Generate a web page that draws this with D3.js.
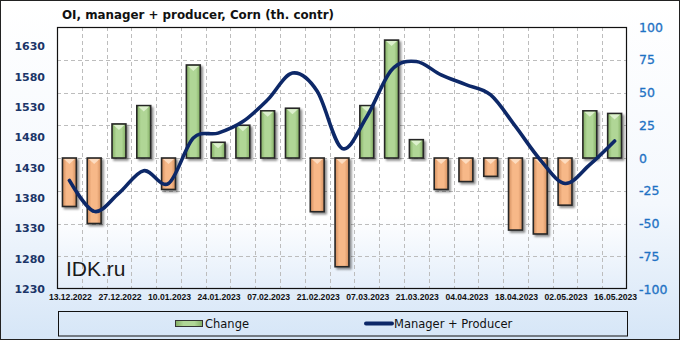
<!DOCTYPE html>
<html><head><meta charset="utf-8">
<script src="https://cdn.jsdelivr.net/npm/d3@7/dist/d3.min.js"></script>
<style>html,body{margin:0;padding:0;background:#fff;}svg{display:block;}</style>
</head><body>
<script>
const dates = ["13.12.2022","20.12.2022","27.12.2022","03.01.2023","10.01.2023","17.01.2023","24.01.2023","31.01.2023","07.02.2023","14.02.2023","21.02.2023","28.02.2023","07.03.2023","14.03.2023","21.03.2023","28.03.2023","04.04.2023","11.04.2023","18.04.2023","25.04.2023","02.05.2023","09.05.2023","16.05.2023"];
const change = [-37,-50,26,40,-24,71,12,25,36,38,-41,-83,40,90,14,-24,-18,-14,-55,-58,-36,36,34];
const managerProducer = [1409,1358,1388,1425,1404,1479,1487,1506,1542,1586,1556,1462,1514,1591,1605,1583,1567,1550,1498,1443,1404,1435,1474];
const leftTicks = [1230,1280,1330,1380,1430,1480,1530,1580,1630];
const rightTicks = [-100,-75,-50,-25,0,25,50,75,100];
const xTickLabels = dates.filter((d,i)=>i%2===0);
const title = "OI, manager + producer, Corn (th. contr)";
const seriesNames = ["Change","Manager + Producer"];

const W=681,H=341;
const plot={l:57,r:627,t:27,b:289};
const svg=d3.select("body").append("svg").attr("width",W).attr("height",H);
const defs=svg.append("defs");

const bgG=defs.append("linearGradient").attr("id","bg").attr("x1",0).attr("y1",0).attr("x2",0).attr("y2",1);
bgG.append("stop").attr("offset","0%").attr("stop-color","#ffffff");
bgG.append("stop").attr("offset","60%").attr("stop-color","#f4f8fd");
bgG.append("stop").attr("offset","100%").attr("stop-color","#d6e6f7");
const pG=defs.append("linearGradient").attr("id","pbg").attr("x1",0).attr("y1",0).attr("x2",0).attr("y2",1);
pG.append("stop").attr("offset","0%").attr("stop-color","#ffffff");
pG.append("stop").attr("offset","72%").attr("stop-color","#ffffff");
pG.append("stop").attr("offset","100%").attr("stop-color","#e4eefa");

function hGrad(id,edge,mid){
  const g=defs.append("linearGradient").attr("id",id).attr("x1",0).attr("y1",0).attr("x2",1).attr("y2",0);
  g.append("stop").attr("offset","0%").attr("stop-color",edge);
  g.append("stop").attr("offset","30%").attr("stop-color",mid);
  g.append("stop").attr("offset","70%").attr("stop-color",mid);
  g.append("stop").attr("offset","100%").attr("stop-color",edge);
}
hGrad("gPos","#82ad62","#b0d696");
hGrad("gNeg","#d18d5d","#f7b888");
const f=defs.append("filter").attr("id","sh").attr("x","-30%").attr("y","-10%").attr("width","170%").attr("height","130%");
f.append("feGaussianBlur").attr("in","SourceAlpha").attr("stdDeviation",1.2).attr("result","b");
f.append("feOffset").attr("in","b").attr("dx",2).attr("dy",2).attr("result","o");
f.append("feComponentTransfer").attr("in","o").attr("result","o2").append("feFuncA").attr("type","linear").attr("slope",0.45);
const fm=f.append("feMerge");fm.append("feMergeNode").attr("in","o2");fm.append("feMergeNode").attr("in","SourceGraphic");

svg.append("rect").attr("x",0.5).attr("y",0.5).attr("width",W-2).attr("height",H-2).attr("fill","url(#bg)").attr("stroke","#222").attr("stroke-width",1);
svg.append("rect").attr("x",plot.l).attr("y",plot.t).attr("width",plot.r-plot.l).attr("height",plot.b-plot.t).attr("fill","url(#pbg)");

const x=d3.scaleBand().domain(dates).range([plot.l,plot.r]).padding(0);
const yR=d3.scaleLinear().domain([-100,100]).range([plot.b,plot.t]);
const yL=d3.scaleLinear().domain([1230,1662]).range([plot.b,plot.t]);

const grid=svg.append("g").attr("stroke","#bdbdbd").attr("stroke-dasharray","4,3").attr("stroke-width",1);
rightTicks.slice(1,-1).forEach(v=>grid.append("line").attr("x1",plot.l).attr("x2",plot.r).attr("y1",Math.round(yR(v))+0.5).attr("y2",Math.round(yR(v))+0.5));
dates.slice(1).forEach(d=>grid.append("line").attr("x1",Math.round(x(d))+0.5).attr("x2",Math.round(x(d))+0.5).attr("y1",plot.t).attr("y2",plot.b));

svg.append("text").attr("x",62).attr("y",19).attr("font-family","DejaVu Sans").attr("font-weight","bold").attr("font-size",11.5)
  .attr("textLength",272).attr("lengthAdjust","spacingAndGlyphs").attr("fill","#111").text(title);

svg.append("text").attr("x",66).attr("y",276).attr("font-family","Liberation Sans, Arial").attr("font-size",21).attr("fill","#1a1a1a").text("IDK.ru");

const bw=x.bandwidth()*0.56;
const bars=svg.append("g");
change.forEach((v,i)=>{
  const cx=x(dates[i])+x.bandwidth()/2;
  const y0=yR(0),y1=yR(v);
  const top=Math.min(y0,y1),h=Math.abs(y1-y0);
  const g=bars.append("g");
  g.append("rect").attr("x",cx-bw/2).attr("y",top).attr("width",bw).attr("height",h)
    .attr("fill",v>=0?"url(#gPos)":"url(#gNeg)").attr("stroke","#262626").attr("stroke-width",1.6).attr("filter","url(#sh)");
  const tw=bw-3, th=Math.min(5,h/2);
  g.append("path").attr("d",`M${cx-tw/2},${top+1}L${cx+tw/2},${top+1}L${cx},${top+1+th}Z`).attr("fill",v>=0?"#e2f3d4":"#fde0c6").attr("opacity",0.9);
});

const line=d3.line().x((d,i)=>x(dates[i])+x.bandwidth()/2).y(d=>yL(d)).curve(d3.curveCardinal.tension(0));
svg.append("path").datum(managerProducer).attr("d",line).attr("fill","none").attr("stroke","#0d2868").attr("stroke-width",3.6).attr("stroke-linecap","round");

svg.append("rect").attr("x",plot.l+0.5).attr("y",plot.t+0.5).attr("width",plot.r-plot.l-1).attr("height",plot.b-plot.t-1).attr("fill","none").attr("stroke","#111").attr("stroke-width",1.2);

svg.append("g").selectAll("text").data(leftTicks).join("text").attr("x",45).attr("y",d=>yL(d)).attr("dy","0.36em").attr("text-anchor","end")
  .attr("font-family","DejaVu Sans").attr("font-weight","bold").attr("font-size",11).attr("fill","#1b3568").text(d=>d);
svg.append("g").selectAll("text").data(rightTicks).join("text").attr("x",639).attr("y",d=>yR(d)).attr("dy","0.36em").attr("text-anchor","start")
  .attr("font-family","DejaVu Sans").attr("font-size",12.5).attr("stroke","#1f72c4").attr("stroke-width",0.3).attr("fill","#1f72c4").text(d=>d);
svg.append("g").selectAll("text").data(xTickLabels).join("text").attr("x",d=>x(d)+x.bandwidth()/2+1).attr("y",300).attr("text-anchor","middle")
  .attr("font-family","Liberation Sans, Arial").attr("font-weight","bold").attr("font-size",8.6).attr("fill","#111").text(d=>d);

svg.append("rect").attr("x",58.5).attr("y",311.5).attr("width",569).attr("height",24.5).attr("fill","none").attr("stroke","#111").attr("stroke-width",1);
svg.append("rect").attr("x",175.5).attr("y",320.5).attr("width",27).attr("height",6).attr("fill","url(#gPos)").attr("stroke","#333").attr("stroke-width",1);
svg.append("text").attr("x",205).attr("y",328).attr("font-family","DejaVu Sans").attr("font-size",11.5).attr("fill","#111").text(seriesNames[0]);
svg.append("line").attr("x1",366).attr("x2",392).attr("y1",323.5).attr("y2",323.5).attr("stroke","#0d2868").attr("stroke-width",4).attr("stroke-linecap","round");
svg.append("text").attr("x",394).attr("y",328).attr("font-family","DejaVu Sans").attr("font-size",11.5).attr("fill","#111").text(seriesNames[1]);
</script>
</body></html>
